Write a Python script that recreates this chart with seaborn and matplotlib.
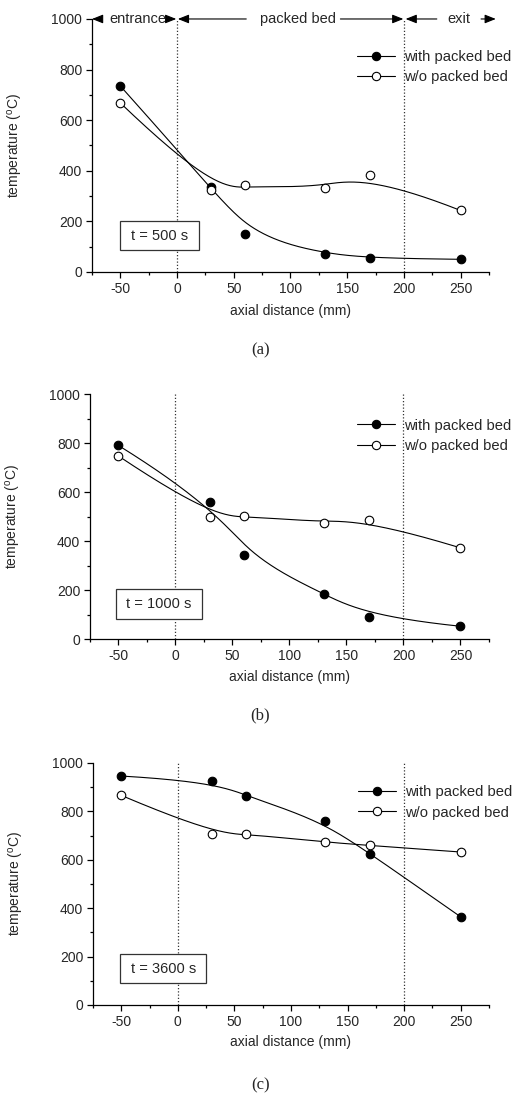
import numpy as np
import pandas as pd
import matplotlib
matplotlib.use("Agg")
import matplotlib.pyplot as plt
from matplotlib.lines import Line2D
from matplotlib.patches import Rectangle
import seaborn as sns

# axial positions of the thermocouples (mm)
axial_mm = [-50, 30, 60, 130, 170, 250]

# temperatures (deg C) at t = 500 s, 1000 s and 3600 s
with_bed_500 = [735, 334, 151, 70, 54, 50]
without_bed_500 = [668, 325, 342, 330, 384, 243]
with_bed_1000 = [790, 559, 343, 185, 91, 52]
without_bed_1000 = [747, 499, 504, 474, 485, 372]
with_bed_3600 = [946, 924, 862, 759, 625, 364]
without_bed_3600 = [866, 708, 708, 672, 659, 632]

time_labels = ["t = 500 s", "t = 1000 s", "t = 3600 s"]
panel_labels = ["(a)", "(b)", "(c)"]
series_names = ["with packed bed", "w/o packed bed"]

x_ticks = [-50, 0, 50, 100, 150, 200, 250]
y_ticks = [0, 200, 400, 600, 800, 1000]
zone_bounds = [0, 200]
zone_names = ["entrance", "packed bed", "exit"]

sns.set_theme(style="ticks")
plt.rcParams["font.family"] = ["Liberation Sans", "DejaVu Sans"]
plt.rcParams["mathtext.fontset"] = "custom"
plt.rcParams["mathtext.rm"] = "Liberation Sans"
plt.rcParams["mathtext.it"] = "Liberation Sans:italic"

TXT = "#262626"


def bspline(xs, ys, degree=3, num=400):
    """Clamped uniform B-spline using the data points as control points."""
    P = np.column_stack([xs, ys]).astype(float)
    n = len(P)
    k = degree
    inner = np.linspace(0.0, 1.0, n - k + 1)
    knots = np.concatenate([np.zeros(k), inner, np.ones(k)])
    u = np.linspace(0.0, 1.0, num)
    m = len(knots) - 1
    N = np.zeros((m, num))
    for i in range(m):
        N[i] = (knots[i] <= u) & (u < knots[i + 1])
    last = np.max(np.where(knots < 1.0)[0])
    N[last, u >= 1.0] = 1.0
    for d in range(1, k + 1):
        Nn = np.zeros((m - d, num))
        for i in range(m - d):
            den1 = knots[i + d] - knots[i]
            den2 = knots[i + d + 1] - knots[i + 1]
            t1 = (u - knots[i]) / den1 * N[i] if den1 > 0 else 0.0
            t2 = (knots[i + d + 1] - u) / den2 * N[i + 1] if den2 > 0 else 0.0
            Nn[i] = t1 + t2
        N = Nn
    c = N.T @ P
    return c[:, 0], c[:, 1]


fig = plt.figure(figsize=(5.18, 10.97), dpi=100)

# axes rectangles in figure fractions [left, bottom, width, height]
rects = [
    [0.1776, 0.7521, 0.7664, 0.2306],
    [0.1737, 0.4175, 0.7703, 0.2233],
    [0.1795, 0.0839, 0.7645, 0.2206],
]
label_y = [0.681, 0.348, 0.011]
legend_y = [0.81, 0.83, 0.837]
boxes = [(-50, 85, 69, 115), (-52, 83, 75, 120), (-51, 90, 76, 120)]

data = [
    (with_bed_500, without_bed_500),
    (with_bed_1000, without_bed_1000),
    (with_bed_3600, without_bed_3600),
]

for idx, (rect, (yf, yo)) in enumerate(zip(rects, data)):
    ax = fig.add_axes(rect)

    # zone boundaries
    for xb in zone_bounds:
        ax.axvline(xb, color="#333333", lw=0.9, ls=(0, (1, 1.6)), zorder=1)

    # smooth curves
    for vals in (yf, yo):
        cx, cy = bspline(axial_mm, vals)
        curve = pd.DataFrame({"x": cx, "y": cy})
        sns.lineplot(data=curve, x="x", y="y", ax=ax, color="black",
                     lw=0.8, sort=False, estimator=None, zorder=2)

    pts = pd.DataFrame({
        "x": axial_mm * 2,
        "y": list(yf) + list(yo),
        "series": [series_names[0]] * 6 + [series_names[1]] * 6,
    })
    sns.scatterplot(data=pts[pts.series == series_names[0]], x="x", y="y",
                    ax=ax, color="black", edgecolor="black", s=38,
                    linewidth=0.8, zorder=3, legend=False)
    sns.scatterplot(data=pts[pts.series == series_names[1]], x="x", y="y",
                    ax=ax, color="white", edgecolor="black", s=38,
                    linewidth=0.8, zorder=3, legend=False)

    ax.set_xlim(-75, 275)
    ax.set_ylim(0, 1000)
    ax.set_xticks(x_ticks)
    ax.set_xticks(np.arange(-75, 276, 25), minor=True)
    ax.set_yticks(y_ticks)
    ax.set_yticks(np.arange(0, 1001, 100), minor=True)
    ax.set_xticklabels([str(v) for v in x_ticks])
    ax.set_yticklabels([str(v) for v in y_ticks])
    ax.tick_params(axis="both", which="major", direction="out", length=4,
                   width=0.9, labelsize=10, labelcolor=TXT, color="black", pad=3)
    ax.tick_params(axis="both", which="minor", direction="out", length=2.5,
                   width=0.9, color="black")
    for s in ("top", "right"):
        ax.spines[s].set_visible(False)
    for s in ("left", "bottom"):
        ax.spines[s].set_linewidth(0.9)
        ax.spines[s].set_color("black")

    ax.set_xlabel("axial distance (mm)", fontsize=10, color=TXT)
    ax.set_ylabel(r"temperature ($^{\mathrm{o}}$C)", fontsize=10, color=TXT)
    ax.yaxis.set_label_coords(-0.169, 0.5)
    ax.xaxis.set_label_coords(0.5, -0.125)

    # time stamp box
    bx, by, bw, bh = boxes[idx]
    ax.add_patch(Rectangle((bx, by), bw, bh, fill=True, facecolor="white",
                           edgecolor="#333333", lw=0.9, zorder=4))
    ax.text(bx + bw / 2, by + bh / 2, time_labels[idx], ha="center",
            va="center", fontsize=10.5, color=TXT, zorder=5)

    handles = [
        Line2D([], [], color="black", lw=0.8, marker="o", markersize=6,
               markerfacecolor="black", markeredgecolor="black", markeredgewidth=0.8),
        Line2D([], [], color="black", lw=0.8, marker="o", markersize=6,
               markerfacecolor="white", markeredgecolor="black", markeredgewidth=0.8),
    ]
    leg = ax.legend(handles, series_names, loc="center left",
                    bbox_to_anchor=(0.668, legend_y[idx]), frameon=False,
                    fontsize=10.6, handlelength=2.6, handletextpad=0.6,
                    labelspacing=0.42, borderpad=0, borderaxespad=0)
    for t in leg.get_texts():
        t.set_color(TXT)

    fig.text(0.503, label_y[idx], panel_labels[idx], ha="center", va="center",
             fontsize=12, family="Liberation Serif", color=TXT)

    if idx == 0:
        # zone annotations along the top edge
        arrow = dict(arrowstyle="-|>,head_length=0.55,head_width=0.22",
                     color="black", lw=0.8, shrinkA=0, shrinkB=0)
        segs = [(-68, -75), (-10, -0.7), (61, 0.7), (144, 199.5),
                (229, 201.5), (268, 281)]
        for x0, x1 in segs:
            ax.annotate("", xy=(x1, 1000), xytext=(x0, 1000),
                        arrowprops=arrow, annotation_clip=False)
        for name, xc in zip(zone_names, [-34.5, 107, 248.5]):
            ax.text(xc, 1000, name, ha="center", va="center", fontsize=10.5,
                    color=TXT, clip_on=False)

fig.savefig("out.png", dpi=100)
